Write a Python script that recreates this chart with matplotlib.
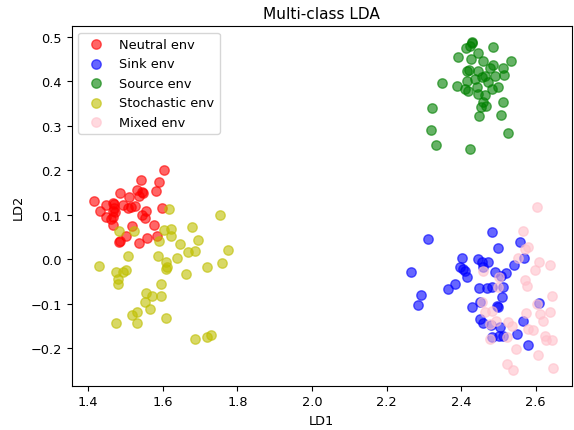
import matplotlib
matplotlib.use("Agg")
import matplotlib.pyplot as plt

neutral_x = [1.604, 1.541, 1.589, 1.582, 1.484, 1.531, 1.543, 1.510, 1.535, 1.414,
             1.447, 1.467, 1.492, 1.514, 1.525, 1.431, 1.465, 1.472, 1.507, 1.597,
             1.545, 1.555, 1.447, 1.467, 1.552, 1.467, 1.516, 1.576, 1.502, 1.485,
             1.483, 1.535, 1.557, 1.583, 1.470, 1.462, 1.548, 1.470]
neutral_y = [0.201, 0.178, 0.173, 0.154, 0.150, 0.156, 0.152, 0.141, 0.142, 0.130,
             0.123, 0.127, 0.122, 0.118, 0.120, 0.109, 0.109, 0.107, 0.115, 0.116,
             0.100, 0.108, 0.094, 0.094, 0.093, 0.076, 0.074, 0.078, 0.053, 0.042,
             0.038, 0.037, 0.047, 0.052, 0.125, 0.090, 0.150, 0.115]

sink_x = [2.312, 2.484, 2.558, 2.500, 2.266, 2.402, 2.397, 2.410, 2.405, 2.417,
          2.445, 2.455, 2.473, 2.458, 2.491, 2.520, 2.506, 2.543, 2.569, 2.384,
          2.366, 2.448, 2.469, 2.482, 2.513, 2.292, 2.285, 2.509, 2.451, 2.430,
          2.500, 2.496, 2.451, 2.460, 2.479, 2.504, 2.513, 2.482, 2.549, 2.567,
          2.580, 2.610, 2.502]
sink_y = [0.046, 0.061, 0.040, 0.025, -0.029, 0.002, -0.018, -0.026, -0.022, -0.040,
          0.001, -0.005, -0.005, -0.018, -0.029, -0.031, -0.037, -0.013, 0.003, -0.056,
          -0.067, -0.064, -0.064, -0.063, -0.062, -0.080, -0.103, -0.085, -0.097, -0.107,
          -0.108, -0.105, -0.134, -0.143, -0.148, -0.153, -0.172, -0.175, -0.168, -0.138,
          -0.192, -0.099, -0.173]

source_x = [2.428, 2.424, 2.412, 2.486, 2.391, 2.427, 2.445, 2.460, 2.533, 2.486,
            2.478, 2.513, 2.417, 2.446, 2.516, 2.491, 2.464, 2.455, 2.437, 2.415,
            2.473, 2.500, 2.349, 2.390, 2.410, 2.419, 2.482, 2.442, 2.446, 2.464,
            2.460, 2.466, 2.453, 2.513, 2.321, 2.448, 2.506, 2.318, 2.527, 2.333,
            2.424, 2.420, 2.430]
source_y = [0.488, 0.480, 0.475, 0.476, 0.455, 0.449, 0.463, 0.445, 0.446, 0.437,
            0.429, 0.429, 0.424, 0.422, 0.415, 0.413, 0.413, 0.409, 0.405, 0.401,
            0.398, 0.388, 0.396, 0.390, 0.383, 0.378, 0.383, 0.387, 0.371, 0.369,
            0.353, 0.345, 0.342, 0.354, 0.340, 0.323, 0.324, 0.291, 0.284, 0.257,
            0.248, 0.426, 0.485]

stochastic_x = [1.616, 1.753, 1.482, 1.523, 1.604, 1.621, 1.621, 1.677, 1.590, 1.646,
                1.693, 1.774, 1.668, 1.687, 1.507, 1.586, 1.639, 1.608, 1.608, 1.610,
                1.429, 1.718, 1.759, 1.474, 1.501, 1.494, 1.661, 1.480, 1.479, 1.594,
                1.554, 1.572, 1.594, 1.552, 1.566, 1.531, 1.516, 1.608, 1.474, 1.530,
                1.686, 1.718, 1.729]
stochastic_y = [0.113, 0.100, 0.063, 0.063, 0.066, 0.067, 0.053, 0.072, 0.042, 0.034,
                0.044, 0.022, 0.016, 0.019, 0.007, 0.007, 0.004, -0.005, -0.022, -0.018,
                -0.014, -0.017, -0.008, -0.028, -0.024, -0.029, -0.033, -0.044, -0.056, -0.056,
                -0.076, -0.083, -0.083, -0.097, -0.112, -0.119, -0.125, -0.133, -0.144, -0.143,
                -0.179, -0.175, -0.170]

mixed_x = [2.565, 2.580, 2.571, 2.553, 2.609, 2.638, 2.598, 2.460, 2.502, 2.571,
           2.578, 2.500, 2.643, 2.455, 2.603, 2.574, 2.612, 2.638, 2.620, 2.464,
           2.482, 2.495, 2.478, 2.527, 2.536, 2.580, 2.592, 2.625, 2.628, 2.478,
           2.522, 2.546, 2.607, 2.643, 2.522, 2.538, 2.646, 2.604]
mixed_y = [0.063, 0.028, 0.023, 0.004, -0.007, -0.012, -0.023, -0.026, -0.040, -0.047,
           -0.059, -0.063, -0.082, -0.097, -0.100, -0.121, -0.123, -0.119, -0.138, -0.119,
           -0.117, -0.138, -0.145, -0.142, -0.149, -0.157, -0.159, -0.172, -0.181, -0.179,
           -0.175, -0.202, -0.214, -0.181, -0.235, -0.248, -0.244, 0.118]

labels = ["Neutral env", "Sink env", "Source env", "Stochastic env", "Mixed env"]
colors = ["red", "blue", "green", "y", "pink"]
xs = [neutral_x, sink_x, source_x, stochastic_x, mixed_x]
ys = [neutral_y, sink_y, source_y, stochastic_y, mixed_y]

plt.rcParams["font.size"] = 9.26

fig = plt.figure(figsize=(5.74, 4.31), dpi=100)
ax = fig.add_axes([0.1249, 0.1028, 0.8716, 0.8339])
for x, y, c, l in zip(xs, ys, colors, labels):
    ax.scatter(x, y, color=c, alpha=0.6, label=l, s=46)
ax.set_xlim(1.3555, 2.6975)
ax.set_ylim(-0.284, 0.5236)
ax.set_xlabel("LD1")
ax.set_ylabel("LD2")
ax.set_title("Multi-class LDA", fontsize=11.1)
ax.legend(loc="upper left")
fig.savefig("out.png", dpi=100)
